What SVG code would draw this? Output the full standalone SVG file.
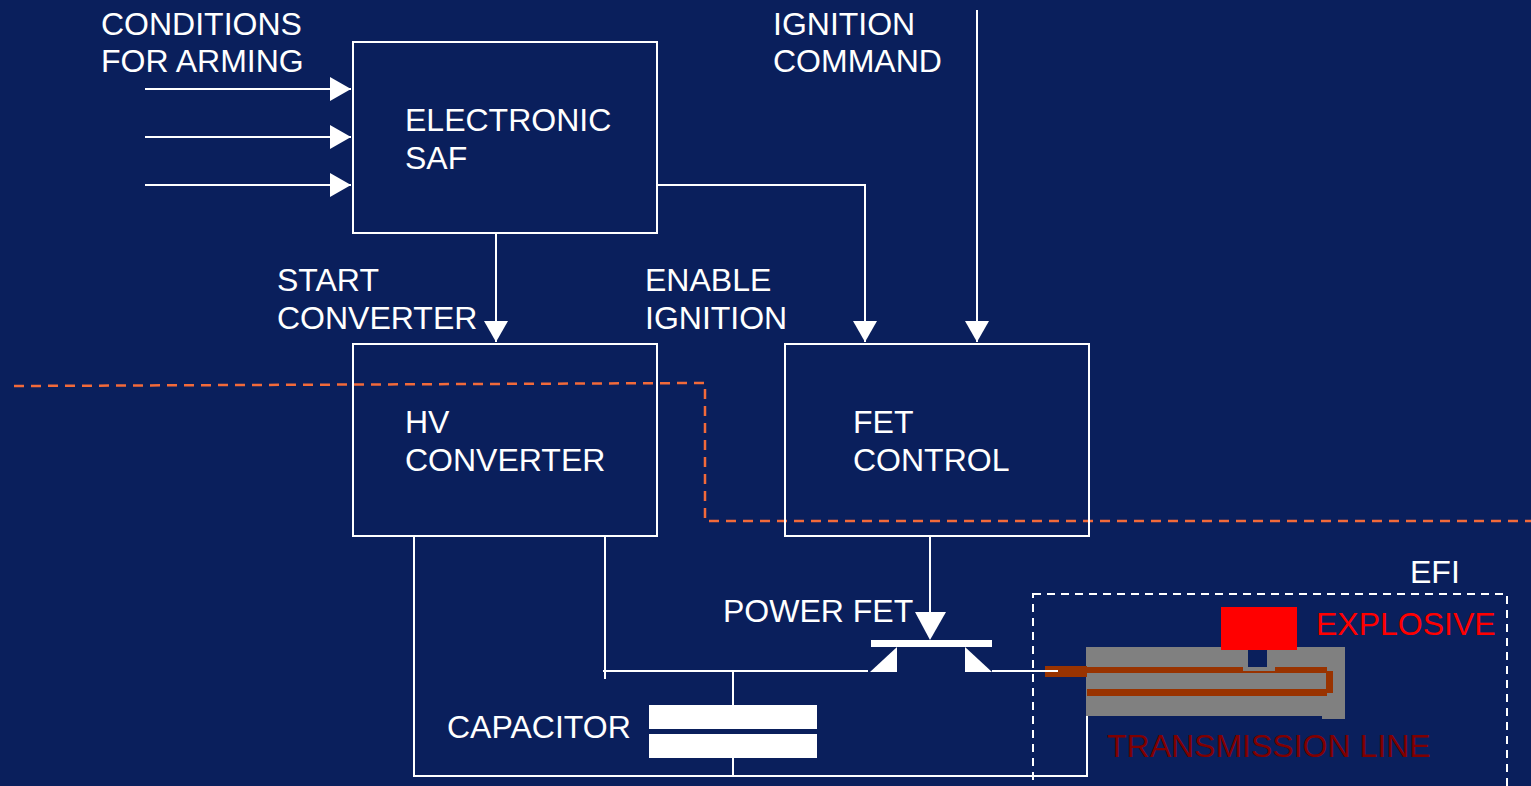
<svg xmlns="http://www.w3.org/2000/svg" width="1531" height="786" viewBox="0 0 1531 786">
<defs>
<style>
.box{fill:none;stroke:#fff;stroke-width:2}
.ln{fill:none;stroke:#fff;stroke-width:2}
.t{font-family:"Liberation Sans",Arial,sans-serif;font-size:32px;fill:#fff}
.or{fill:none;stroke:#f26a3a;stroke-width:2.5;stroke-dasharray:10,7}
.wf{fill:#fff}
.cu{fill:#993300}
.gr{fill:#808080}
</style>
<marker id="ah" markerWidth="30" markerHeight="24" refX="21" refY="12" orient="auto" markerUnits="userSpaceOnUse">
<path d="M0,0 L21,12 L0,24 Z" fill="#fff"/>
</marker>
</defs>
<rect width="1531" height="786" fill="#0a1f5c"/>

<g id="connectors">
<line class="ln" x1="145" y1="89" x2="351" y2="89" marker-end="url(#ah)"/>
<line class="ln" x1="145" y1="137" x2="351" y2="137" marker-end="url(#ah)"/>
<line class="ln" x1="145" y1="185" x2="351" y2="185" marker-end="url(#ah)"/>
<line class="ln" x1="496" y1="233" x2="496" y2="342" marker-end="url(#ah)"/>
<polyline class="ln" points="657,185 865,185 865,342" marker-end="url(#ah)"/>
<line class="ln" x1="977" y1="10" x2="977" y2="342" marker-end="url(#ah)"/>
<line class="ln" x1="930" y1="536" x2="930" y2="615"/>
<polygon class="wf" points="915,612 946,612 930,640"/>
<line class="ln" x1="605" y1="536" x2="605" y2="679"/>
<line class="ln" x1="603" y1="671" x2="868" y2="671"/>
<line class="ln" x1="992" y1="671" x2="1058" y2="671"/>
<polyline class="ln" points="414,536 414,776 1087,776 1087,693"/>
<line class="ln" x1="733" y1="671" x2="733" y2="705"/>
<line class="ln" x1="733" y1="758" x2="733" y2="776"/>
</g>

<g id="boundary">
<polyline class="or" points="14,386 705,383 705,521 1531,521"/>
</g>

<g id="conditions-label">
<text class="t" x="101" y="35">CONDITIONS</text>
<text class="t" x="101" y="72">FOR ARMING</text>
</g>
<g id="ignition-command-label">
<text class="t" x="773" y="35">IGNITION</text>
<text class="t" x="773" y="72">COMMAND</text>
</g>
<g id="start-converter-label">
<text class="t" x="277" y="291">START</text>
<text class="t" x="277" y="329">CONVERTER</text>
</g>
<g id="enable-ignition-label">
<text class="t" x="645" y="291">ENABLE</text>
<text class="t" x="645" y="329">IGNITION</text>
</g>

<g id="electronic-saf">
<rect class="box" x="353" y="42" width="304" height="191"/>
<text class="t" x="405" y="131">ELECTRONIC</text>
<text class="t" x="405" y="169">SAF</text>
</g>
<g id="hv-converter">
<rect class="box" x="353" y="344" width="304" height="192"/>
<text class="t" x="405" y="433">HV</text>
<text class="t" x="405" y="471">CONVERTER</text>
</g>
<g id="fet-control">
<rect class="box" x="785" y="344" width="304" height="192"/>
<text class="t" x="853" y="433">FET</text>
<text class="t" x="853" y="471">CONTROL</text>
</g>

<g id="power-fet">
<rect class="wf" x="871" y="640" width="121" height="7"/>
<polygon class="wf" points="870,672 897,647 897,672"/>
<polygon class="wf" points="965,647 965,672 992,672"/>
<text class="t" x="723" y="622">POWER FET</text>
</g>

<g id="capacitor">
<rect class="wf" x="649" y="705" width="168" height="24"/>
<rect class="wf" x="649" y="734" width="168" height="24"/>
<text class="t" x="447" y="738">CAPACITOR</text>
</g>

<g id="efi">
<rect x="1033" y="594" width="474" height="200" fill="none" stroke="#fff" stroke-width="2" stroke-dasharray="8,6"/>
<text class="t" x="1410" y="583">EFI</text>
<rect class="gr" x="1086" y="647" width="237" height="69"/>
<rect class="gr" x="1322" y="647" width="23" height="72"/>
<rect x="1221" y="607" width="76" height="43" fill="#ff0000"/>
<rect x="1248" y="650" width="19" height="17" fill="#0a1f5c"/>
<rect class="cu" x="1045" y="666" width="42" height="11"/>
<rect class="cu" x="1086" y="667" width="241" height="6"/>
<rect class="gr" x="1243" y="667" width="32" height="4"/>
<rect class="cu" x="1087" y="689" width="240" height="7"/>
<rect class="cu" x="1326" y="671" width="7" height="22"/>
<line class="ln" x1="1045" y1="671" x2="1058" y2="671"/>
<text x="1316" y="635" font-family="Liberation Sans,Arial,sans-serif" font-size="32" fill="#ff0000">EXPLOSIVE</text>
<text x="1107" y="757" font-family="Liberation Sans,Arial,sans-serif" font-size="32" fill="#800000">TRANSMISSION LINE</text>
</g>
</svg>
